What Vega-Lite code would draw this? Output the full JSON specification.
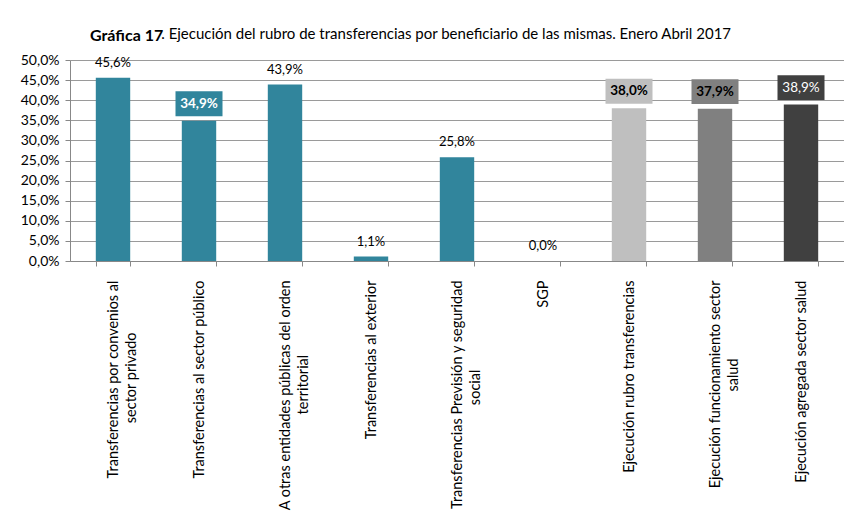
{
  "$schema": "https://vega.github.io/schema/vega-lite/v6.json",
  "autosize": {"type": "none"},
  "width": 774,
  "height": 201,
  "padding": {"left": 70, "top": 60, "right": 0, "bottom": 251},
  "background": "white",
  "title": {
    "text": "Gráfica 17",
    "subtitle": "\u200b\u2003\u2003\u2003\u2003\u2003\u2002\u2002. Ejecución del rubro de transferencias por beneficiario de las mismas. Enero Abril 2017",
    "anchor": "start",
    "frame": "group",
    "dx": 20,
    "offset": 8,
    "font": "Lato",
    "fontSize": 16,
    "fontWeight": "bold",
    "color": "#000000",
    "subtitleFont": "Lato",
    "subtitleFontSize": 15,
    "subtitleColor": "#000000",
    "subtitlePadding": -17
  },
  "config": {
    "locale": {"number": {"decimal": ",", "thousands": ".", "grouping": [3], "currency": ["$", ""]}},
    "view": {"stroke": null},
    "font": "Lato"
  },
  "data": {
    "values": [
      {"cat": "Transferencias por convenios al|sector privado", "valor": 0.456},
      {"cat": "Transferencias al sector público", "valor": 0.349},
      {"cat": "A otras entidades públicas del orden|territorial", "valor": 0.439},
      {"cat": "Transferencias al exterior", "valor": 0.011},
      {"cat": "Transferencias Previsión y seguridad|social", "valor": 0.258},
      {"cat": "SGP", "valor": 0.0},
      {"cat": "Ejecución rubro transferencias", "valor": 0.38},
      {"cat": "Ejecución funcionamiento sector|salud", "valor": 0.379},
      {"cat": "Ejecución agregada sector salud", "valor": 0.389}
    ]
  },
  "encoding": {
    "x": {
      "field": "cat", "type": "nominal", "sort": null,
      "scale": {"paddingInner": 0.6, "paddingOuter": 0.3},
      "axis": {
        "title": null,
        "labelAngle": -90,
        "labelAlign": "right",
        "labelBaseline": "middle",
        "labelExpr": "length(split(datum.label, '|')) > 1 ? [split(datum.label, '|')[0], pad(split(datum.label, '|')[1], length(split(datum.label, '|')[1]) + round(0.8 * (length(split(datum.label, '|')[0]) - length(split(datum.label, '|')[1]))), '\u00a0', 'right') + '\u200b'] : datum.label",
        "labelLineHeight": 18,
        "labelFontSize": 14.5,
        "labelColor": "#000000",
        "labelPadding": 14,
        "labelLimit": 400,
        "tickBand": "extent",
        "tickSize": 5,
        "tickColor": "#888888",
        "domainColor": "#888888",
        "grid": false,
        "encoding": {
          "labels": {
            "dy": {"signal": "indexof(datum.value, '|') >= 0 ? -9 : 0"}
          }
        }
      }
    },
    "y": {
      "field": "valor", "type": "quantitative",
      "scale": {"domain": [0, 0.5], "nice": false},
      "axis": {
        "title": null,
        "format": ".1%",
        "values": [0, 0.05, 0.1, 0.15, 0.2, 0.25, 0.3, 0.35, 0.4, 0.45, 0.5],
        "labelFontSize": 14,
        "labelColor": "#000000",
        "labelPadding": 6,
        "tickSize": 5,
        "tickColor": "#888888",
        "domainColor": "#888888",
        "gridColor": "#9A9A9A",
        "gridWidth": 1
      }
    }
  },
  "layer": [
    {
      "mark": {"type": "bar"},
      "encoding": {
        "color": {
          "field": "cat", "type": "nominal", "legend": null,
          "scale": {
            "domain": [
              "Transferencias por convenios al|sector privado",
              "Transferencias al sector público",
              "A otras entidades públicas del orden|territorial",
              "Transferencias al exterior",
              "Transferencias Previsión y seguridad|social",
              "SGP",
              "Ejecución rubro transferencias",
              "Ejecución funcionamiento sector|salud",
              "Ejecución agregada sector salud"
            ],
            "range": ["#31859C", "#31859C", "#31859C", "#31859C", "#31859C", "#31859C", "#BFBFBF", "#808080", "#404040"]
          }
        }
      }
    },
    {
      "transform": [{"filter": {"field": "cat", "oneOf": [
        "Transferencias por convenios al|sector privado",
        "A otras entidades públicas del orden|territorial",
        "Transferencias al exterior",
        "Transferencias Previsión y seguridad|social",
        "SGP"]}}],
      "mark": {"type": "text", "dy": -15, "baseline": "middle", "fontSize": 13, "color": "#000000"},
      "encoding": {"text": {"field": "valor", "type": "quantitative", "format": ".1%"}}
    },
    {
      "transform": [{"filter": {"field": "cat", "oneOf": [
        "Transferencias al sector público",
        "Ejecución rubro transferencias",
        "Ejecución funcionamiento sector|salud",
        "Ejecución agregada sector salud"]}}],
      "mark": {"type": "point", "shape": "M-1,-0.53H1V0.53H-1Z", "filled": true, "opacity": 1, "size": 2209, "yOffset": -17, "strokeWidth": 0},
      "encoding": {
        "color": {"field": "cat", "type": "nominal", "legend": null}
      }
    },
    {
      "transform": [{"filter": {"field": "cat", "oneOf": [
        "Transferencias al sector público",
        "Ejecución rubro transferencias",
        "Ejecución funcionamiento sector|salud"]}}],
      "mark": {"type": "text", "dy": -17, "baseline": "middle", "fontSize": 13.5, "fontWeight": "bold"},
      "encoding": {
        "text": {"field": "valor", "type": "quantitative", "format": ".1%"},
        "color": {
          "condition": {"test": "datum.cat == 'Transferencias al sector público'", "value": "#FFFFFF"},
          "value": "#000000"
        }
      }
    },
    {
      "transform": [{"filter": {"field": "cat", "equal": "Ejecución agregada sector salud"}}],
      "mark": {"type": "text", "dy": -17, "baseline": "middle", "fontSize": 13.5, "color": "#FFFFFF"},
      "encoding": {"text": {"field": "valor", "type": "quantitative", "format": ".1%"}}
    }
  ]
}
